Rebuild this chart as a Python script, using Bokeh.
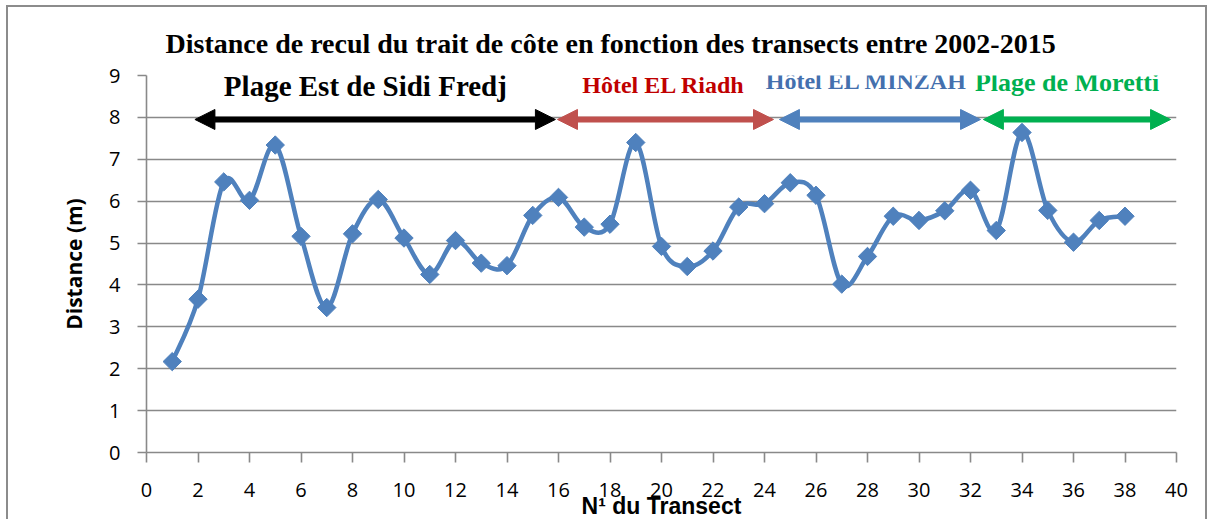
from bokeh.plotting import figure
from bokeh.models import Range1d, FixedTicker, Label, Arrow, NormalHead
from bokeh.embed import file_html
from bokeh.resources import INLINE

# ---- data ----
transects = list(range(1, 39))
distance = [2.17, 3.66, 6.46, 6.02, 7.34, 5.16, 3.46, 5.22, 6.04, 5.12,
            4.25, 5.06, 4.52, 4.46, 5.66, 6.09, 5.38, 5.45, 7.40, 4.92,
            4.44, 4.81, 5.86, 5.94, 6.44, 6.14, 4.02, 4.68, 5.64, 5.54,
            5.77, 6.26, 5.30, 7.64, 5.78, 5.02, 5.54, 5.64]

sections = ["Plage Est de Sidi Fredj", "Hôtel  EL Riadh", "Hôtel EL MINZAH", "Plage de Moretti"]
section_start = [1.88, 15.96, 24.58, 32.5]
section_end = [15.88, 24.35, 32.39, 39.77]
section_label_x = [8.5, 20.2, 27.96, 35.75]
section_label_y = [8.74, 8.78, 8.88, 8.84]
arrow_colors = ["#000000", "#C0504D", "#4F81BD", "#00B050"]
text_colors = ["#000000", "#C00000", "#4470AE", "#00B050"]
text_sizes = ["29px", "24px", "24px", "26px"]

x_ticks = list(range(0, 41, 2))
y_ticks = list(range(0, 10))

title = "Distance de recul du trait de côte en fonction des transects entre 2002-2015"
xlabel = "N¹ du Transect"
ylabel = "Distance (m)"

GRAY = "#898989"
BLUE = "#4F81BD"

p = figure(width=1201, height=514, output_backend="svg", toolbar_location=None,
           x_range=Range1d(0, 40), y_range=Range1d(0, 9),
           min_border_left=138, min_border_right=33, min_border_top=68, min_border_bottom=68)
p.styles = {"border-top": "2px solid #8c8c8c", "border-left": "2px solid #8c8c8c",
            "border-right": "2px solid #8c8c8c", "margin-left": "6px", "margin-top": "5px"}
p.outline_line_color = None
p.background_fill_color = "white"
p.border_fill_color = "white"

p.title.text = title
p.title.text_font = "Liberation Serif"
p.title.text_font_style = "bold"
p.title.text_font_size = "28px"
p.title.text_color = "#000000"
p.title.align = "left"
p.title.offset = 19
p.title.standoff = 34

p.xgrid.grid_line_color = None
p.ygrid.grid_line_color = GRAY
p.ygrid.grid_line_width = 1.6
p.ygrid.ticker = FixedTicker(ticks=y_ticks)

p.xaxis.ticker = FixedTicker(ticks=x_ticks)
p.yaxis.ticker = FixedTicker(ticks=y_ticks)
for ax in (p.xaxis[0], p.yaxis[0]):
    ax.axis_line_color = GRAY
    ax.axis_line_width = 1.6
    ax.major_tick_line_color = GRAY
    ax.major_tick_line_width = 1.6
    ax.major_tick_in = 0
    ax.minor_tick_line_color = None
    ax.major_label_text_font = "Open Sans"
    ax.major_label_text_font_size = "20px"
    ax.major_label_text_color = "#000000"
p.xaxis.major_tick_out = 10
p.xaxis.major_label_standoff = 20
p.yaxis.major_tick_out = 9
p.yaxis.major_label_standoff = 17

p.yaxis.axis_label = ylabel
p.yaxis.axis_label_text_font = "Open Sans"
p.yaxis.axis_label_text_font_style = "bold"
p.yaxis.axis_label_text_font_size = "21px"
p.yaxis.axis_label_text_color = "#000000"
p.yaxis.axis_label_standoff = 18

p.xaxis.axis_label = xlabel
p.xaxis.axis_label_text_font = "Liberation Sans"
p.xaxis.axis_label_text_font_style = "bold"
p.xaxis.axis_label_text_font_size = "23px"
p.xaxis.axis_label_text_color = "#000000"
p.xaxis.axis_label_standoff = -7

# ---- smoothed line (Catmull-Rom Bezier segments computed from the data) ----
n = len(transects)
x0, y0, x1, y1, cx0, cy0, cx1, cy1 = [], [], [], [], [], [], [], []
for i in range(n - 1):
    pa = i - 1 if i > 0 else i
    pd = i + 2 if i + 2 < n else i + 1
    xa, ya = transects[pa], distance[pa]
    xb, yb = transects[i], distance[i]
    xc, yc = transects[i + 1], distance[i + 1]
    xd, yd = transects[pd], distance[pd]
    x0.append(xb); y0.append(yb); x1.append(xc); y1.append(yc)
    cx0.append(xb + (xc - xa) / 6); cy0.append(yb + (yc - ya) / 6)
    cx1.append(xc - (xd - xb) / 6); cy1.append(yc - (yd - yb) / 6)
p.bezier(x0=x0, y0=y0, x1=x1, y1=y1, cx0=cx0, cy0=cy0, cx1=cx1, cy1=cy1,
         line_color=BLUE, line_width=4.5, line_cap="round", line_join="round")
p.scatter(transects, distance, marker="square", angle=0.785398, size=13,
          fill_color=BLUE, line_color=BLUE)

# ---- section arrows and labels ----
for s, e, c in zip(section_start, section_end, arrow_colors):
    p.add_layout(Arrow(x_start=s, y_start=7.95, x_end=e, y_end=7.95,
                       line_color=c, line_width=6,
                       start=NormalHead(size=20, fill_color=c, line_color=c, line_width=1),
                       end=NormalHead(size=20, fill_color=c, line_color=c, line_width=1)))
for t, lx, ly, c, fs in zip(sections, section_label_x, section_label_y, text_colors, text_sizes):
    p.add_layout(Label(x=lx, y=ly, text=t, text_align="center", text_baseline="middle",
                       text_font="Liberation Serif", text_font_style="bold",
                       text_font_size=fs, text_color=c))

open("out.html", "w").write(file_html(p, INLINE))
